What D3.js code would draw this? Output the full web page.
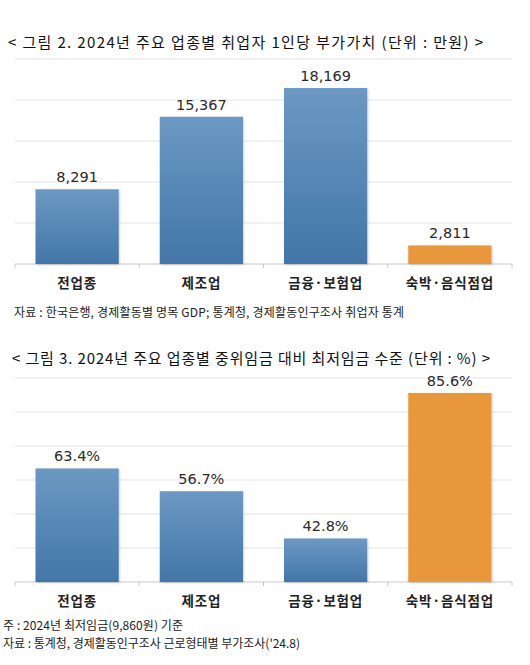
<!DOCTYPE html>
<html>
<head>
<meta charset="utf-8">
<script src="https://cdn.jsdelivr.net/npm/d3@7"></script>
<style>
  body { margin: 0; background: #fff; }
  text { font-family: "Noto Sans CJK KR", sans-serif; }
</style>
</head>
<body>
<svg id="chart" width="530" height="665"></svg>
<script>
// data
const categories = ["전업종", "제조업", "금융·보험업", "숙박·음식점업"];
const valueAdded = [8291, 15367, 18169, 2811];      // 만원
const minWageRatio = [63.4, 56.7, 42.8, 85.6];      // %
const highlight = "숙박·음식점업";

const title1 = "< 그림 2. 2024년 주요 업종별 취업자 1인당 부가가치 (단위 : 만원) >";
const title2 = "<  그림 3. 2024년 주요 업종별 중위임금 대비 최저임금 수준 (단위 : %) >";
const notes1 = ["자료 : 한국은행, 경제활동별 명목 GDP; 통계청, 경제활동인구조사 취업자 통계"];
const notes2 = ["주 : 2024년 최저임금(9,860원) 기준", "자료 : 통계청, 경제활동인구조사 근로형태별 부가조사('24.8)"];

const svg = d3.select("#chart");

const defs = svg.append("defs");
const grad = defs.append("linearGradient")
    .attr("id", "blueGrad")
    .attr("x1", 0).attr("y1", 0).attr("x2", 0).attr("y2", 1);
grad.append("stop").attr("offset", "0%").attr("stop-color", "#6c99c3");
grad.append("stop").attr("offset", "100%").attr("stop-color", "#4276a8");

const shadow = defs.append("filter").attr("id", "shadow")
    .attr("x", "-10%").attr("y", "-10%").attr("width", "130%").attr("height", "130%");
shadow.append("feDropShadow")
    .attr("dx", 1).attr("dy", 1).attr("stdDeviation", 1.2)
    .attr("flood-color", "#000").attr("flood-opacity", 0.18);

function drawChart(opts) {
    const g = svg.append("g");

    g.append("text")
        .attr("x", opts.titleX).attr("y", opts.titleY)
        .attr("textLength", opts.titleLen)
        .attr("lengthAdjust", "spacing")
        .style("font-size", "15px")
        .style("fill", "#111")
        .text(opts.title);

    const x = d3.scaleBand()
        .domain(categories)
        .range([15, 512])
        .paddingInner(0.33)
        .paddingOuter(0.165);

    const y = d3.scaleLinear()
        .domain(opts.domain)
        .range([opts.bottom, opts.top]);

    // gridlines
    g.selectAll(".grid")
        .data(opts.ticks.slice(1))
        .join("line")
        .attr("x1", 15).attr("x2", 512)
        .attr("y1", d => y(d)).attr("y2", d => y(d))
        .attr("stroke", "#e3e3e3")
        .attr("stroke-width", 1);

    // baseline axis with tick marks at band edges
    g.append("line")
        .attr("x1", 15).attr("x2", 512)
        .attr("y1", opts.bottom).attr("y2", opts.bottom)
        .attr("stroke", "#c8c8c8");
    const edges = categories.map(c => x(c) - x.step() * x.paddingInner() / 2)
        .concat([512]);
    edges[0] = 15;
    g.selectAll(".tick")
        .data(edges)
        .join("line")
        .attr("x1", d => d).attr("x2", d => d)
        .attr("y1", opts.bottom).attr("y2", opts.bottom + 4)
        .attr("stroke", "#c8c8c8");

    // bars
    g.selectAll(".bar")
        .data(opts.values)
        .join("rect")
        .attr("x", (d, i) => x(categories[i]))
        .attr("y", d => y(d))
        .attr("width", x.bandwidth())
        .attr("height", d => opts.bottom - y(d))
        .attr("fill", (d, i) => categories[i] === highlight ? "#e8973a" : "url(#blueGrad)")
        .attr("filter", "url(#shadow)");

    // value labels
    g.selectAll(".val")
        .data(opts.values)
        .join("text")
        .attr("x", (d, i) => x(categories[i]) + x.bandwidth() / 2)
        .attr("y", d => y(d) - 7)
        .attr("text-anchor", "middle")
        .style("font-family", "'DejaVu Sans', Verdana, sans-serif")
        .style("font-size", "14.5px")
        .style("fill", "#2a2a2a")
        .text(opts.format);

    // category labels
    g.selectAll(".cat")
        .data(categories)
        .join("text")
        .attr("x", d => x(d) + x.bandwidth() / 2)
        .attr("y", opts.bottom + 24)
        .attr("text-anchor", "middle")
        .style("font-size", "13.5px")
        .style("font-weight", "bold")
        .style("fill", "#222")
        .style("letter-spacing", "0.8px")
        .text(d => d);

    // notes
    g.selectAll(".note")
        .data(opts.notes)
        .join("text")
        .attr("x", opts.noteX)
        .attr("y", (d, i) => opts.noteY + i * 18)
        .attr("textLength", (d, i) => opts.noteLen[i])
        .attr("lengthAdjust", "spacing")
        .style("font-size", "12px")
        .style("fill", "#222")
        .text(d => d);
}

drawChart({
    title: title1, titleX: 8, titleY: 48, titleLen: 475,
    values: valueAdded,
    domain: [1000, 21000],
    ticks: d3.range(1000, 21001, 4000),
    top: 59, bottom: 264,
    format: d => d3.format(",")(d),
    notes: notes1, noteX: 14, noteY: 317, noteLen: [390]
});

drawChart({
    title: title2, titleX: 12, titleY: 364, titleLen: 478,
    values: minWageRatio,
    domain: [30, 90],
    ticks: d3.range(30, 91, 10),
    top: 378, bottom: 582,
    format: d => d.toFixed(1) + "%",
    notes: notes2, noteX: 3, noteY: 630, noteLen: [180, 297]
});
</script>
</body>
</html>
